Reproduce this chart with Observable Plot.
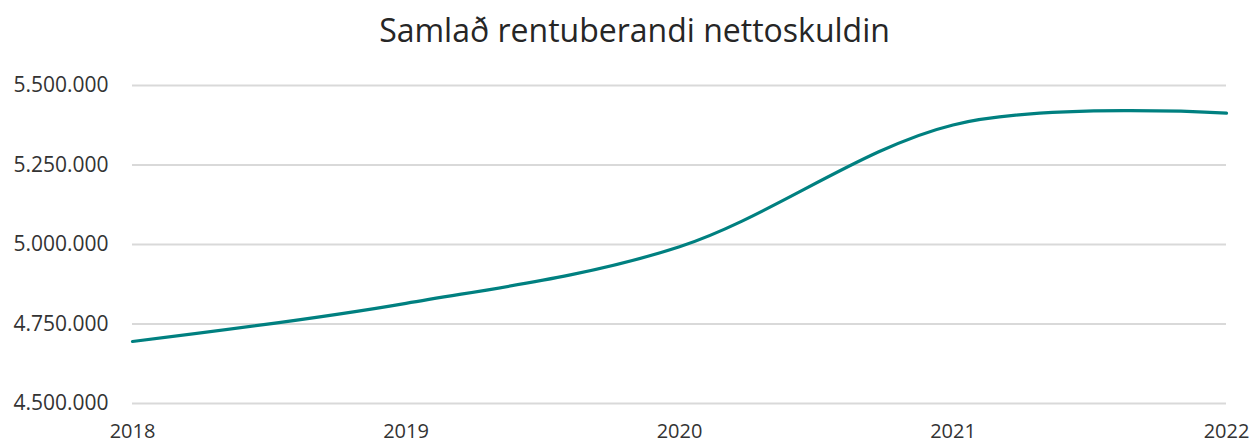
<!DOCTYPE html>
<html>
<head>
<meta charset="utf-8">
<script src="https://cdn.jsdelivr.net/npm/d3@7"></script>
<script src="https://cdn.jsdelivr.net/npm/@observablehq/plot@0.6"></script>
<style>
  html, body { margin: 0; padding: 0; background: #fff; }
  #title { height: 60px; font-family: "Open Sans", sans-serif; font-size: 32px; color: #262626; text-align: center; line-height: 60px; padding-left: 16px; }
  #chart svg { display: block; }
</style>
</head>
<body>
<div id="title">Samlað rentuberandi nettoskuldin</div>
<div id="chart"></div>
<script>
const years = [2018, 2019, 2020, 2021, 2022];
const values = [4695000, 4815000, 4993000, 5376000, 5413000];
const yTicks = [4500000, 4750000, 5000000, 5250000, 5500000];

const data = years.map((y, i) => ({year: y, value: values[i]}));
const fmt = d3.formatLocale({decimal: ",", thousands: ".", grouping: [3], currency: ["", ""]}).format(",");

const plot = Plot.plot({
  width: 1253,
  height: 384,
  marginLeft: 132,
  marginRight: 27,
  marginTop: 25,
  marginBottom: 41,
  style: {fontFamily: "'Open Sans', sans-serif", fontSize: "20px", color: "#333333", background: "#fff"},
  x: {domain: [2018, 2022]},
  y: {domain: [4500000, 5500000]},
  marks: [
    Plot.gridY(yTicks, {stroke: "#d9d9d9", strokeOpacity: 1, strokeWidth: 2}),
    Plot.axisY(yTicks, {tickSize: 0, tickPadding: 24, tickFormat: fmt, fontSize: 21, label: null}),
    Plot.axisX(years, {tickSize: 0, tickPadding: 20, tickFormat: d => String(d), label: null}),
    Plot.line(data, {x: "year", y: "value", stroke: "#008080", strokeWidth: 3.2, curve: "cardinal"})
  ]
});
document.getElementById("chart").appendChild(plot);
</script>
</body>
</html>
